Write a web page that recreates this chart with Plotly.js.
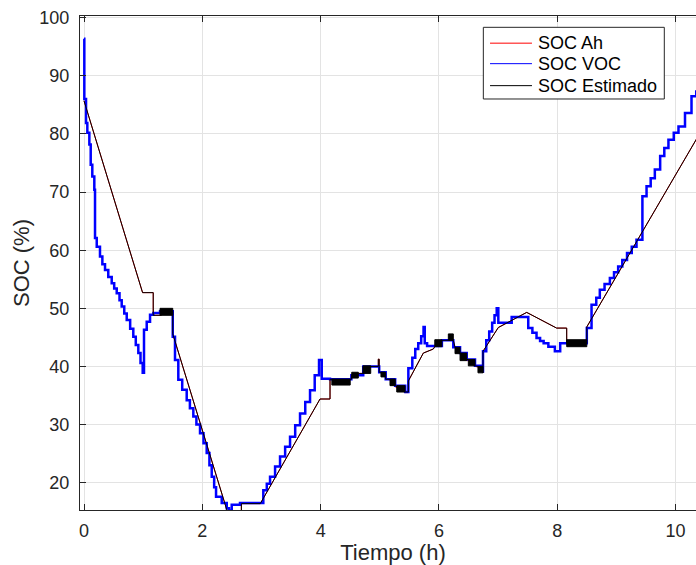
<!DOCTYPE html>
<html>
<head>
<meta charset="utf-8">
<script src="https://cdn.plot.ly/plotly-3.0.1.min.js"></script>
<style>
html, body { margin: 0; padding: 0; overflow: hidden; background: #fff; }
#chart { width: 706px; height: 565px; }
</style>
</head>
<body>
<div id="chart"></div>
<script>
// ---- Data (time in hours, SOC in %) ----
// SOC Estimado
const estT = [0, 0.99, 1.17, 1.17, 1.285, 1.50, 1.50, 2.43, 2.66, 2.66, 2.98, 3.99, 4.159, 4.159, 4.52, 4.52, 4.64, 4.72, 4.72, 4.975, 4.975, 4.99, 4.99, 5.10, 5.10, 5.26, 5.26, 5.43, 5.483, 5.483, 5.736, 5.905, 5.93, 6.05, 6.159, 6.243, 6.272, 6.357, 6.47, 6.497, 6.61, 6.66, 6.745, 6.745, 7.004, 7.484, 7.99, 8.16, 8.16, 8.50, 8.50, 10.45];
const estV = [85.7, 52.7, 52.7, 48.8, 48.8, 49.5, 45.6, 14.8, 14.8, 16.4, 16.4, 34.4, 34.4, 37.8, 37.8, 38.5, 38.8, 38.8, 40.0, 40.0, 41.25, 41.25, 39.0, 39.0, 37.8, 37.8, 36.7, 35.6, 35.6, 37.5, 42.3, 43.0, 43.4, 44.5, 44.5, 44.5, 43.3, 42.3, 41.2, 41.2, 40.1, 40.0, 38.9, 42.6, 46.7, 49.3, 46.6, 46.6, 44.0, 44.0, 46.8, 80.8];

// SOC Ah (coulomb counting) - practically coincident with the estimate
const ahT = [0, 0.99, 1.17, 1.17, 1.285, 1.50, 1.50, 2.43, 2.66, 2.66, 2.98, 3.99, 4.159, 4.159, 4.52, 4.52, 4.64, 4.72, 4.72, 4.975, 4.975, 4.99, 4.99, 5.10, 5.10, 5.26, 5.26, 5.43, 5.483, 5.483, 5.736, 5.905, 5.93, 6.05, 6.159, 6.243, 6.272, 6.357, 6.47, 6.497, 6.61, 6.66, 6.745, 6.745, 7.004, 7.484, 7.99, 8.16, 8.16, 8.50, 8.50, 10.45];
const ahV = [85.7, 52.7, 52.7, 48.8, 48.8, 49.5, 45.6, 14.8, 14.8, 16.4, 16.4, 34.4, 34.4, 37.8, 37.8, 38.5, 38.8, 38.8, 40.0, 40.0, 41.25, 41.25, 39.0, 39.0, 37.8, 37.6, 36.5, 35.5, 35.5, 37.5, 42.3, 43.0, 43.4, 44.5, 44.5, 44.5, 43.3, 42.3, 41.0, 41.0, 40.0, 39.9, 38.9, 42.6, 46.7, 49.3, 46.6, 46.6, 44.0, 44.0, 46.8, 80.8];

// SOC VOC (open-circuit voltage based), stepped
const vocT = [0, 0.005, 0.034, 0.056, 0.09, 0.113, 0.14, 0.174, 0.186, 0.215, 0.27, 0.31, 0.355, 0.41, 0.468, 0.51, 0.553, 0.60, 0.637, 0.68, 0.722, 0.78, 0.833, 0.875, 0.918, 0.955, 0.992, 1.014, 1.06, 1.116, 1.172, 1.285, 1.50, 1.50, 1.538, 1.594, 1.66, 1.736, 1.79, 1.848, 1.90, 1.961, 2.02, 2.074, 2.12, 2.159, 2.20, 2.232, 2.328, 2.413, 2.45, 2.497, 2.637, 2.975, 3.031, 3.09, 3.145, 3.23, 3.314, 3.40, 3.483, 3.57, 3.652, 3.74, 3.821, 3.90, 3.973, 4.019, 4.159, 4.52, 4.72, 4.72, 4.99, 5.10, 5.26, 5.43, 5.483, 5.483, 5.55, 5.60, 5.65, 5.70, 5.74, 5.76, 5.80, 5.93, 6.05, 6.243, 6.357, 6.47, 6.61, 6.745, 6.745, 6.80, 6.85, 6.90, 6.94, 6.977, 7.004, 7.13, 7.23, 7.456, 7.51, 7.58, 7.65, 7.71, 7.77, 7.85, 7.96, 8.05, 8.50, 8.50, 8.58, 8.66, 8.72, 8.80, 8.89, 8.96, 9.03, 9.10, 9.18, 9.26, 9.34, 9.44, 9.44, 9.51, 9.58, 9.65, 9.74, 9.81, 9.88, 9.97, 10.05, 10.16, 10.27, 10.35, 10.45];
const vocV = [96.4, 86.0, 81.9, 80.2, 78.2, 74.7, 72.7, 70.4, 62.1, 60.6, 58.9, 57.6, 56.6, 55.4, 54.3, 53.4, 52.6, 51.4, 50.3, 49.1, 48.0, 46.5, 45.1, 43.7, 42.3, 40.6, 38.9, 46.3, 47.7, 48.9, 49.2, 49.5, 49.5, 45.1, 41.1, 37.7, 36.0, 34.2, 32.8, 31.4, 30.0, 28.5, 26.8, 25.1, 23.0, 21.0, 19.2, 17.6, 16.5, 15.6, 15.2, 16.2, 16.5, 16.5, 18.7, 19.8, 21.0, 22.8, 24.5, 26.2, 27.9, 29.9, 31.9, 33.9, 35.9, 38.5, 41.1, 37.9, 37.8, 38.5, 38.8, 40.0, 39.0, 37.8, 36.7, 35.6, 35.6, 39.7, 41.5, 43.0, 44.0, 45.2, 46.8, 44.0, 43.5, 43.5, 44.5, 43.3, 42.3, 41.2, 40.1, 38.9, 42.6, 44.5, 46.0, 47.5, 48.8, 50.0, 47.5, 47.5, 48.5, 48.5, 46.6, 45.8, 44.9, 44.4, 44.0, 43.4, 42.6, 44.0, 44.0, 46.6, 50.6, 51.8, 53.2, 54.2, 55.2, 56.2, 57.2, 58.3, 59.5, 60.6, 61.8, 62.1, 69.3, 71.0, 72.4, 73.9, 76.2, 77.6, 79.0, 80.2, 81.3, 83.6, 86.5, 87.3, 88.5];

// Intervals where the estimate chatters rapidly between two levels (shown as solid bands)
const bandStart = [1.285, 4.19, 4.526, 4.717, 5.02, 5.173, 5.287, 5.93, 6.159, 6.272, 6.357, 6.497, 6.66, 8.16];
const bandEnd   = [1.500, 4.50, 4.637, 4.847, 5.09, 5.258, 5.427, 6.05, 6.243, 6.357, 6.47, 6.61, 6.745, 8.50];
const bandLow   = [48.8, 36.8, 38.0, 38.8, 38.2, 36.7, 35.6, 43.4, 44.5, 42.2, 41.0, 40.1, 38.9, 43.4];
const bandHigh  = [50.0, 37.8, 39.0, 40.1, 39.0, 37.8, 36.7, 44.6, 45.6, 43.3, 42.3, 41.2, 40.0, 44.6];

const xTicks = [0, 2, 4, 6, 8, 10];
const yTicks = [20, 30, 40, 50, 60, 70, 80, 90, 100];

const seriesNames  = ['SOC Ah', 'SOC VOC', 'SOC Estimado'];
const seriesColors = ['#ff0000', '#0000ff', '#000000'];

// ---- Build band polygons ----
const bx = [], by = [];
for (let i = 0; i < bandStart.length; i++) {
  bx.push(bandStart[i], bandEnd[i], bandEnd[i], bandStart[i], bandStart[i], null);
  by.push(bandLow[i], bandLow[i], bandHigh[i], bandHigh[i], bandLow[i], null);
}

const FONT = '"Liberation Sans", Arial, Helvetica, sans-serif';
const AX = '#262626';

const traces = [
  { x: ahT, y: ahV, type: 'scatter', mode: 'lines', name: seriesNames[0],
    line: { color: seriesColors[0], width: 1 }, showlegend: false },
  { x: vocT, y: vocV, type: 'scatter', mode: 'lines', name: seriesNames[1],
    line: { color: seriesColors[1], width: 2.5, shape: 'hv' }, showlegend: false },
  { x: estT, y: estV, type: 'scatter', mode: 'lines', name: seriesNames[2],
    line: { color: seriesColors[2], width: 1 }, showlegend: false },
  { x: bx, y: by, type: 'scatter', mode: 'lines', fill: 'toself', fillcolor: '#000000',
    line: { color: '#000000', width: 1 }, showlegend: false, hoverinfo: 'skip' }
];

// ---- MATLAB-style legend box (paper coordinates) ----
const legX0 = 0.6443, legX1 = 0.9334, legY0 = 0.8320, legY1 = 0.9771;
const legRows = [0.9450, 0.9035, 0.8590];
const shapes = [{
  type: 'rect', xref: 'paper', yref: 'paper', x0: legX0, x1: legX1, y0: legY0, y1: legY1,
  fillcolor: '#ffffff', line: { color: AX, width: 1 }, layer: 'above'
}];
const annotations = [];
seriesNames.forEach((nm, i) => {
  shapes.push({ type: 'line', xref: 'paper', yref: 'paper', x0: 0.6550, x1: 0.7220,
    y0: legRows[i], y1: legRows[i], line: { color: seriesColors[i], width: 1 }, layer: 'above' });
  annotations.push({ xref: 'paper', yref: 'paper', x: 0.7284, y: legRows[i],
    xanchor: 'left', yanchor: 'middle', showarrow: false, text: nm,
    font: { family: FONT, size: 18, color: '#000000' } });
});

const layout = {
  width: 706, height: 565,
  margin: { l: 80, r: 0, t: 16, b: 55 },
  paper_bgcolor: '#ffffff', plot_bgcolor: '#ffffff',
  font: { family: FONT, color: AX, size: 18 },
  showlegend: false,
  shapes: shapes,
  annotations: annotations,
  xaxis: {
    range: [-0.068, 10.515], tickvals: xTicks, ticktext: xTicks.map(String),
    showgrid: true, gridcolor: '#e3e3e3', gridwidth: 1, zeroline: false,
    showline: true, linecolor: AX, linewidth: 1, mirror: 'ticks',
    ticks: 'inside', ticklen: 6, tickcolor: AX, tickwidth: 1,
    tickfont: { family: FONT, size: 18, color: AX },
    ticklabelstandoff: 4,
    title: { text: 'Tiempo (h)', font: { family: FONT, size: 22, color: AX }, standoff: 12 }
  },
  yaxis: {
    range: [15.3, 100.3], tickvals: yTicks, ticktext: yTicks.map(String),
    showgrid: true, gridcolor: '#e3e3e3', gridwidth: 1, zeroline: false,
    showline: true, linecolor: AX, linewidth: 1, mirror: 'ticks',
    ticks: 'inside', ticklen: 6, tickcolor: AX, tickwidth: 1,
    tickfont: { family: FONT, size: 18, color: AX },
    ticklabelstandoff: 6,
    title: { text: 'SOC (%)', font: { family: FONT, size: 22, color: AX }, standoff: 3 }
  }
};

Plotly.newPlot('chart', traces, layout, { displayModeBar: false, staticPlot: true });
</script>
</body>
</html>
